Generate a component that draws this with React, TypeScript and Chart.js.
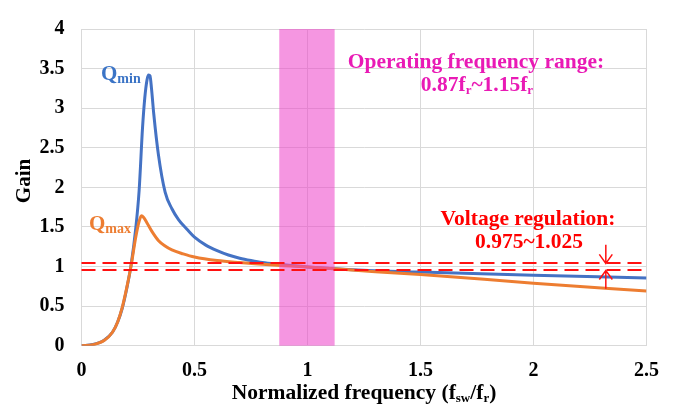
import React, { useEffect, useRef } from "react";
import { Chart, registerables } from "chart.js";

Chart.register(...registerables);

// Qmin curve (blue)
const qminFreq = [0, 0.05, 0.1, 0.137, 0.16, 0.18, 0.2, 0.22, 0.24, 0.255, 0.27, 0.28, 0.29, 0.297, 0.303, 0.31, 0.32, 0.34, 0.37, 0.4, 0.43, 0.47, 0.5, 0.55, 0.6, 0.65, 0.7, 0.75, 0.8, 0.87, 1.0, 1.2, 1.5, 2.0, 2.5];
const qminGain = [0, 0.015, 0.07, 0.17, 0.3, 0.47, 0.72, 1.03, 1.48, 1.96, 2.75, 3.13, 3.36, 3.42, 3.41, 3.24, 2.92, 2.42, 1.94, 1.73, 1.59, 1.46, 1.37, 1.27, 1.2, 1.145, 1.105, 1.075, 1.05, 1.028, 0.995, 0.96, 0.93, 0.89, 0.855];

// Qmax curve (orange)
const qmaxFreq = [0, 0.05, 0.1, 0.137, 0.16, 0.18, 0.2, 0.22, 0.24, 0.255, 0.265, 0.275, 0.29, 0.31, 0.34, 0.37, 0.4, 0.45, 0.5, 0.6, 0.7, 0.8, 0.9, 1.0, 1.3, 1.5, 2.0, 2.5];
const qmaxGain = [0, 0.012, 0.065, 0.17, 0.3, 0.48, 0.73, 1.02, 1.37, 1.57, 1.64, 1.62, 1.55, 1.45, 1.33, 1.26, 1.21, 1.16, 1.12, 1.075, 1.05, 1.03, 1.01, 0.995, 0.935, 0.9, 0.79, 0.69];

const xTicks = [0, 0.5, 1, 1.5, 2, 2.5];
const yTicks = [0, 0.5, 1, 1.5, 2, 2.5, 3, 3.5, 4];

const bandRange = [0.875, 1.12];
const regulationLines = [0.95, 1.04];
const arrowFreq = 2.32;
const arrowTails = [1.275, 0.72];

const SERIF = "'Liberation Serif', 'Times New Roman', serif";

type Part = { t: string; sub?: boolean };

function drawRich(ctx: CanvasRenderingContext2D, parts: Part[], x: number, y: number, size: number, color: string, align: "left" | "center", subScale = 0.62) {
  const subSize = Math.round(size * subScale);
  const widths = parts.map((p) => {
    ctx.font = `bold ${p.sub ? subSize : size}px ${SERIF}`;
    return ctx.measureText(p.t).width;
  });
  const total = widths.reduce((a, b) => a + b, 0);
  let cx = align === "center" ? x - total / 2 : x;
  ctx.fillStyle = color;
  ctx.textBaseline = "alphabetic";
  ctx.textAlign = "left";
  parts.forEach((p, i) => {
    ctx.font = `bold ${p.sub ? subSize : size}px ${SERIF}`;
    ctx.fillText(p.t, cx, p.sub ? y + size * 0.16 : y);
    cx += widths[i];
  });
}

const overlayPlugin = {
  id: "overlay",
  afterDatasetsDraw(chart: any) {
    const { ctx, chartArea, scales } = chart;
    const xs = scales.x;
    const ys = scales.y;
    ctx.save();
    const x0 = xs.getPixelForValue(bandRange[0]);
    const x1 = xs.getPixelForValue(bandRange[1]);
    ctx.fillStyle = "rgba(236, 64, 200, 0.55)";
    ctx.fillRect(x0, chartArea.top, x1 - x0, chartArea.bottom - chartArea.top);
    ctx.strokeStyle = "#FF1010";
    ctx.lineWidth = 2;
    ctx.setLineDash([14, 7]);
    regulationLines.forEach((v) => {
      const py = Math.round(ys.getPixelForValue(v));
      ctx.beginPath();
      ctx.moveTo(chartArea.left, py);
      ctx.lineTo(chartArea.right, py);
      ctx.stroke();
    });
    ctx.setLineDash([]);
    const ax = xs.getPixelForValue(arrowFreq);
    ctx.lineWidth = 1.5;
    const drawArrow = (fromV: number, toV: number) => {
      const fy = ys.getPixelForValue(fromV);
      const ty = ys.getPixelForValue(toV);
      const dir = ty > fy ? 1 : -1;
      ctx.beginPath();
      ctx.moveTo(ax, fy);
      ctx.lineTo(ax, ty);
      ctx.moveTo(ax - 6.5, ty - dir * 9);
      ctx.lineTo(ax, ty);
      ctx.lineTo(ax + 6.5, ty - dir * 9);
      ctx.stroke();
    };
    drawArrow(arrowTails[0], regulationLines[1]);
    drawArrow(arrowTails[1], regulationLines[0]);
    ctx.restore();
  },
  afterDraw(chart: any) {
    const { ctx, chartArea } = chart;
    ctx.save();
    drawRich(ctx, [{ t: "Q" }, { t: "min", sub: true }], 101, 80, 21, "#3B74C6", "left", 0.68);
    drawRich(ctx, [{ t: "Q" }, { t: "max", sub: true }], 89, 230, 21, "#ED7D31", "left", 0.68);
    drawRich(ctx, [{ t: "Operating frequency range:" }], 476, 68, 21.5, "#E91AB5", "center");
    drawRich(ctx, [{ t: "0.87f" }, { t: "r", sub: true }, { t: "~1.15f" }, { t: "r", sub: true }], 477, 91, 21.5, "#E91AB5", "center");
    drawRich(ctx, [{ t: "Voltage regulation:" }], 528, 225, 21.5, "#FF0000", "center");
    drawRich(ctx, [{ t: "0.975~1.025" }], 529, 248, 21.5, "#FF0000", "center");
    const cx = (chartArea.left + chartArea.right) / 2;
    drawRich(ctx, [{ t: "Normalized frequency (f" }, { t: "sw", sub: true }, { t: "/f" }, { t: "r", sub: true }, { t: ")" }], cx, 399, 21.5, "#000000", "center");
    ctx.translate(30, 181);
    ctx.rotate(-Math.PI / 2);
    drawRich(ctx, [{ t: "Gain" }], 0, 0, 21, "#000000", "center");
    ctx.restore();
  },
};

export default function App() {
  const ref = useRef<HTMLCanvasElement | null>(null);
  useEffect(() => {
    if (!ref.current) return;
    const chart = new Chart(ref.current, {
      type: "line",
      data: {
        datasets: [
          {
            label: "Qmin",
            data: qminFreq.map((f, i) => ({ x: f, y: qminGain[i] })),
            borderColor: "#4472C4",
            borderWidth: 3,
            pointRadius: 0,
            cubicInterpolationMode: "monotone",
            order: 1,
          },
          {
            label: "Qmax",
            data: qmaxFreq.map((f, i) => ({ x: f, y: qmaxGain[i] })),
            borderColor: "#ED7D31",
            borderWidth: 3,
            pointRadius: 0,
            cubicInterpolationMode: "monotone",
            order: 0,
          },
        ],
      },
      options: {
        responsive: false,
        animation: false,
        layout: { padding: { top: 14.7, right: 32.5, left: 0, bottom: 0 } },
        plugins: { legend: { display: false }, tooltip: { enabled: false } },
        scales: {
          x: {
            type: "linear",
            min: 0,
            max: 2.5,
            afterBuildTicks: (s: any) => {
              s.ticks = xTicks.map((v) => ({ value: v }));
            },
            afterFit: (s: any) => {
              s.height = 61.3;
            },
            grid: { color: "#D9D9D9", drawTicks: false },
            border: { color: "#D9D9D9" },
            ticks: {
              padding: 13,
              color: "#000",
              font: { family: SERIF, size: 20, weight: "bold" },
              callback: (v: any) => String(v),
            },
          },
          y: {
            min: 0,
            max: 4,
            afterBuildTicks: (s: any) => {
              s.ticks = yTicks.map((v) => ({ value: v }));
            },
            afterFit: (s: any) => {
              s.width = 81.5;
            },
            grid: { color: "#D9D9D9", drawTicks: false },
            border: { color: "#D9D9D9" },
            ticks: {
              padding: 17,
              color: "#000",
              font: { family: SERIF, size: 20, weight: "bold" },
              callback: (v: any) => String(v),
            },
          },
        },
      },
      plugins: [overlayPlugin],
    } as any);
    return () => chart.destroy();
  }, []);
  return (
    <div style={{ position: "fixed", left: 0, top: 0, width: 679, height: 407, background: "#fff" }}>
      <canvas ref={ref} width={679} height={407} style={{ width: 679, height: 407 }} />
    </div>
  );
}
